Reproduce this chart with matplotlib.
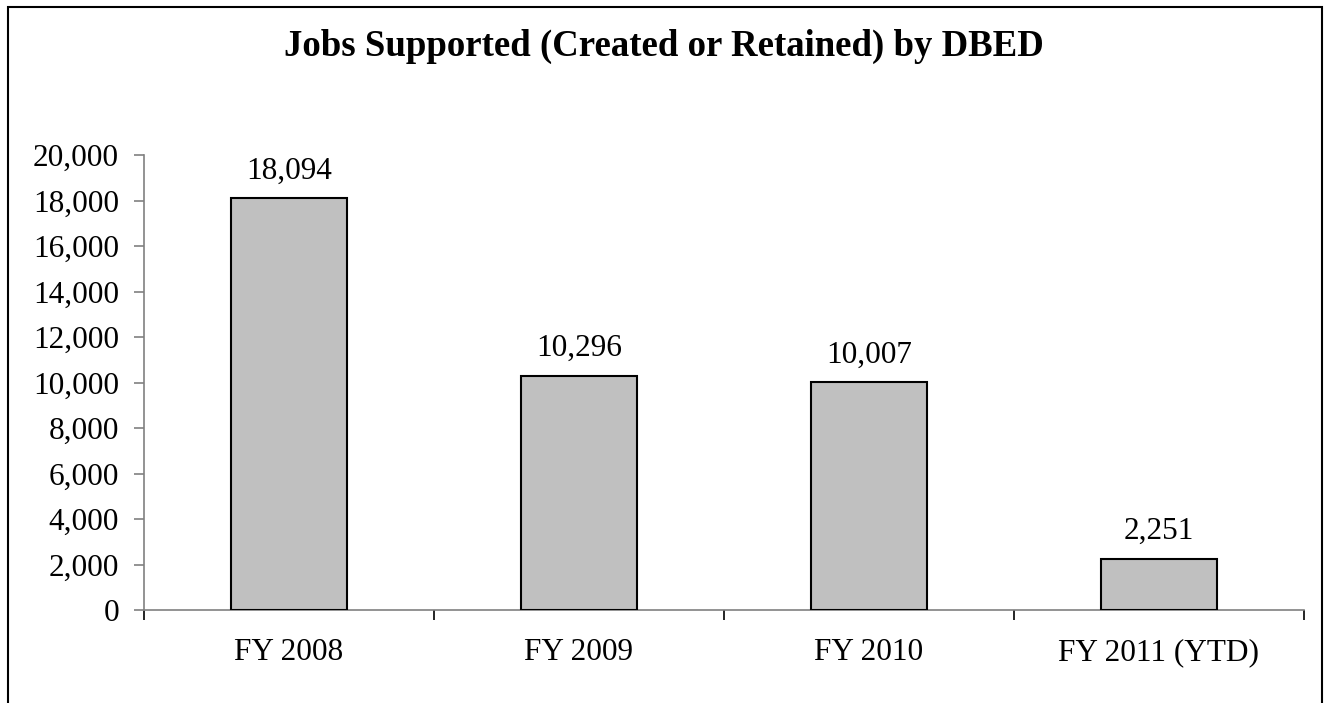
import matplotlib.pyplot as plt
from matplotlib.patches import Rectangle
from matplotlib.ticker import FuncFormatter, MultipleLocator

categories = ["FY 2008", "FY 2009", "FY 2010", "FY 2011 (YTD)"]
jobs = [18094, 10296, 10007, 2251]

W, H = 1327, 703
plt.rcParams["font.family"] = ["Liberation Serif", "DejaVu Serif"]

fig = plt.figure(figsize=(W / 100, H / 100), dpi=100)
ax = fig.add_axes([144 / W, 1 - 610 / H, (1304 - 144) / W, (610 - 155) / H])

x = list(range(len(categories)))
ax.bar(x, jobs, width=0.4, color="#c0c0c0", edgecolor="black", linewidth=1.5, zorder=3)
for xi, v in zip(x, jobs):
    ax.annotate(f"{v:,}", (xi, v), xytext=(0, 9), textcoords="offset points",
                ha="center", va="bottom", fontsize=22.5)

ax.set_xlim(-0.5, len(categories) - 0.5)
ax.set_ylim(0, 20000)
ax.yaxis.set_major_locator(MultipleLocator(2000))
ax.yaxis.set_major_formatter(FuncFormatter(lambda v, p: f"{int(v):,}"))

# category labels between boundary ticks, like Excel
ax.set_xticks([i - 0.5 for i in range(len(categories) + 1)])
ax.set_xticklabels([])
ax.set_xticks(x, minor=True)
ax.set_xticklabels(categories, minor=True, fontsize=22.5)
ax.tick_params(axis="x", which="minor", length=0, pad=20)
ax.tick_params(axis="x", which="major", length=7, width=1.2, color="black", direction="out")
ax.tick_params(axis="y", length=7, width=1.2, color="#808080", direction="out",
               labelsize=22.5, pad=11)

for s in ["top", "right"]:
    ax.spines[s].set_visible(False)
for s in ["left", "bottom"]:
    ax.spines[s].set_color("#808080")
    ax.spines[s].set_linewidth(1.2)

fig.text(0.5, 1 - 46 / H, "Jobs Supported (Created or Retained) by DBED",
         ha="center", va="center", fontsize=26.5, fontweight="bold")

# chart area border (bottom runs off the page)
fig.patches.append(Rectangle((8 / W, -0.05), (1322 - 8) / W, 1.05 - 7 / H,
                             transform=fig.transFigure, fill=False,
                             edgecolor="black", linewidth=1.5))

fig.savefig("out.png", dpi=100)
